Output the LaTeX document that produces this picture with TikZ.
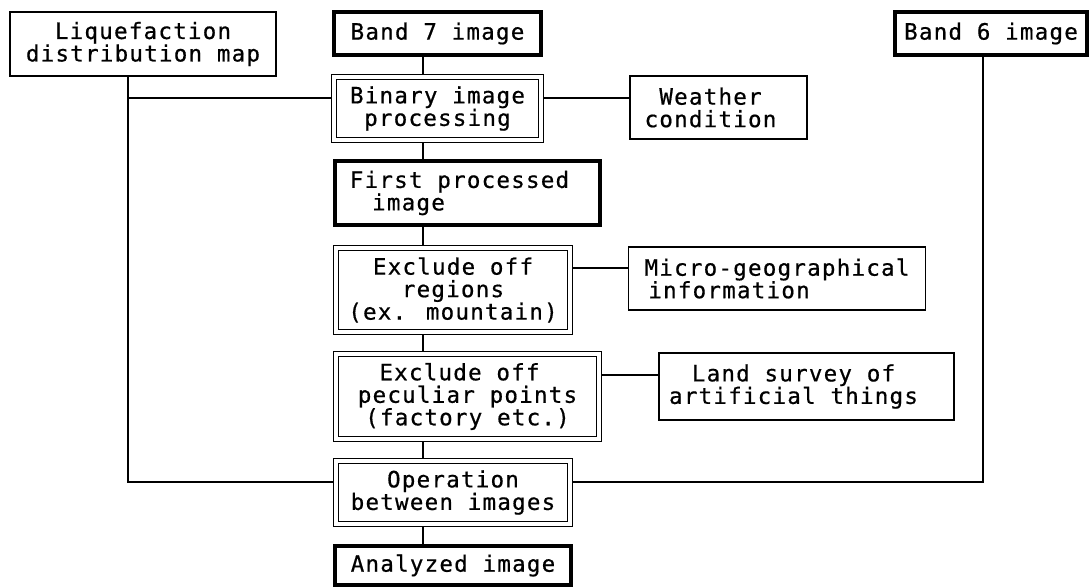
\documentclass[tikz,border=0pt]{standalone}
\usepackage{fontspec}
\newfontfamily\dfont[LetterSpace=5.5,FakeBold=0.6]{DejaVu Sans Mono}
\pgfdeclarelayer{background}
\pgfsetlayers{background,main}
\begin{document}
\begin{tikzpicture}[x=1pt,y=-1pt,
  box/.style={draw, fill=white, line width=1.3pt, inner sep=0pt, align=center,
    font=\dfont\fontsize{22.5}{22.5}\selectfont},
  thickbox/.style={box, line width=4pt},
  dblbox/.style={box, line width=1.3pt, double, double distance=3.2pt},
  conn/.style={line width=1.3pt}]
\useasboundingbox (0,0) rectangle (1091,587);

\node[box, minimum width=266pt, minimum height=64pt] (liq) at (143,44) {Liquefaction\\distribution map};
\node[thickbox, minimum width=207pt, minimum height=43pt] (b7) at (437.5,33.5) {Band 7 image};
\node[thickbox, minimum width=192pt, minimum height=43pt] (b6) at (991,33.5) {Band 6 image};
\node[dblbox, minimum width=207pt, minimum height=63pt] (bin) at (437.5,108.5) {Binary image\\processing};
\node[box, minimum width=177pt, minimum height=63pt] (wea) at (718.5,107.5) {Weather\hspace*{16pt}\\condition\hspace*{16pt}};
\node[thickbox, minimum width=265pt, minimum height=64pt] (fir) at (467.5,193) {First processed\hspace*{16pt}\\\hspace*{16pt}image\hspace*{134pt}};
\node[dblbox, minimum width=234pt, minimum height=84pt] (ex1) at (453,290) {Exclude off\\regions\\(ex. mountain)};
\node[box, minimum width=296pt, minimum height=63pt] (mic) at (777,278.5) {Micro-geographical\\\hspace*{20pt}information\hspace*{116pt}};
\node[dblbox, minimum width=263pt, minimum height=85pt] (ex2) at (467.5,396.5) {Exclude off\hspace*{16pt}\\peculiar points\hspace*{16pt}\\(factory etc.)};
\node[box, minimum width=295pt, minimum height=67pt] (lan) at (806.5,386.5) {Land survey of\hspace*{26pt}\\artificial things\hspace*{26pt}};
\node[dblbox, minimum width=234pt, minimum height=63pt] (ope) at (453,492.5) {Operation\\between images};
\node[thickbox, minimum width=236pt, minimum height=39pt] (ana) at (453,565.5) {Analyzed image};

\coordinate (sp) at (423,0);
\coordinate (lx) at (128,0);
\coordinate (rx) at (983,0);
\coordinate (wy) at (0,98);
\coordinate (my) at (0,268);
\coordinate (ly) at (0,375);
\coordinate (hy) at (0,482);

\begin{pgfonlayer}{background}
\draw[conn] (b7.south -| sp) -- (bin.north -| sp);
\draw[conn] (bin.south -| sp) -- (fir.north -| sp);
\draw[conn] (fir.south -| sp) -- (ex1.north -| sp);
\draw[conn] (ex1.south -| sp) -- (ex2.north -| sp);
\draw[conn] (ex2.south -| sp) -- (ope.north -| sp);
\draw[conn] (ope.south -| sp) -- (ana.north -| sp);
\draw[conn] (bin.east |- wy) -- (wea.west |- wy);
\draw[conn] (ex1.east |- my) -- (mic.west |- my);
\draw[conn] (ex2.east |- ly) -- (lan.west |- ly);
\draw[conn] (liq.south -| lx) |- (ope.west |- hy);
\draw[conn] (lx |- wy) -- (bin.west |- wy);
\draw[conn] (b6.south -| rx) |- (ope.east |- hy);
\end{pgfonlayer}
\end{tikzpicture}
\end{document}
